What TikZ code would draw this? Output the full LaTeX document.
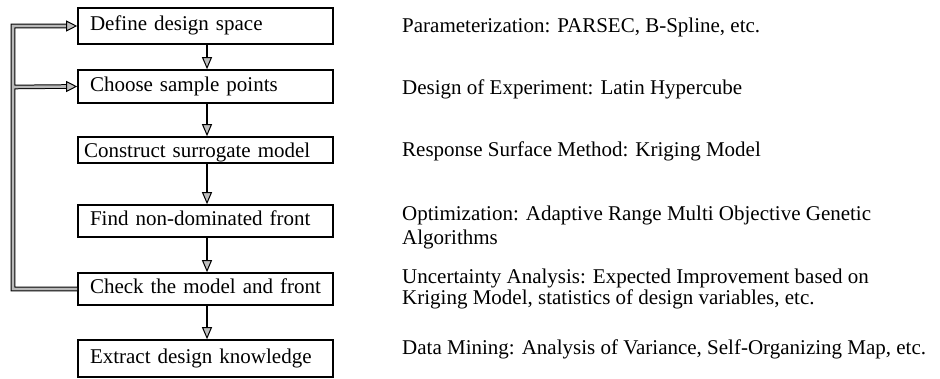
\documentclass[tikz,border=0pt]{standalone}
\usepackage{fontspec}
\setmainfont{Liberation Serif}
\usetikzlibrary{arrows.meta}
\begin{document}
\begin{tikzpicture}[x=1pt,y=-1pt,
  stepbox/.style={draw=black, line width=1.6pt, minimum width=255pt,
    inner xsep=12pt, inner ysep=0pt, text width=231pt, align=left,
    font=\fontsize{21}{24}\selectfont, text height=14.5pt, text depth=4.5pt},
  note/.style={anchor=base west, inner sep=0pt, font=\fontsize{21}{24}\selectfont},
  flow/.style={draw=black, line width=1.8pt,
    -{Triangle[length=12pt, width=10pt, fill=gray!50, line width=1pt]}},
  loopline/.style={draw=black, line width=1pt, double=gray!55, double distance=2.6pt},
  looptip/.style={draw=black, line width=1pt,
    -{Triangle[length=11pt, width=11pt, fill=gray!50]}}
]
\useasboundingbox (0,0) rectangle (940,379);

% process steps
\node[stepbox, minimum height=36pt] (b1) at (205.5,26) {Define design space};
\node[stepbox, minimum height=33pt] (b2) at (205.5,86.5) {Choose sample points};
\node[stepbox, minimum height=26pt, inner xsep=6pt, text width=243pt,
  text height=17.5pt, text depth=1.5pt] (b3) at (205.5,150) {Construct surrogate model};
\node[stepbox, minimum height=32pt] (b4) at (205.5,221) {Find non-dominated front};
\node[stepbox, minimum height=32pt] (b5) at (205.5,289) {Check the model and front};
\node[stepbox, minimum height=37pt] (b6) at (205.5,358.5) {Extract design knowledge};

% methods used at each step
\node[note] (n1) at (402,33) {Parameterization: PARSEC, B-Spline, etc.};
\node[note] (n2) at (402,95) {Design of Experiment: Latin Hypercube};
\node[note] (n3) at (402,157) {Response Surface Method: Kriging Model};
\node[note] (n4a) at (402,221) {Optimization: Adaptive Range Multi Objective Genetic};
\node[note] (n4b) at (402,245) {Algorithms};
\node[note] (n5a) at (402,284) {Uncertainty Analysis: Expected Improvement based on};
\node[note] (n5b) at (402,305) {Kriging Model, statistics of design variables, etc.};
\node[note] (n6) at (402,355) {Data Mining: Analysis of Variance, Self-Organizing Map, etc.};

% main flow
\foreach \a/\b in {b1/b2,b2/b3,b3/b4,b4/b5,b5/b6}
  \draw[flow] ([xshift=1.5pt]\a.south) -- ([xshift=1.5pt]\b.north);

% feedback loop
\coordinate (lb) at (13,289);
\coordinate (lt) at (13,87);
\draw[loopline] (b5.west) -- (lb) |- ([xshift=-10pt]b1.west)
  (lt) -- ([xshift=-10pt]b2.west);
\draw[looptip] ([xshift=-11pt]b1.west) -- (b1.west);
\draw[looptip] ([xshift=-11pt]b2.west) -- (b2.west);
\end{tikzpicture}
\end{document}
